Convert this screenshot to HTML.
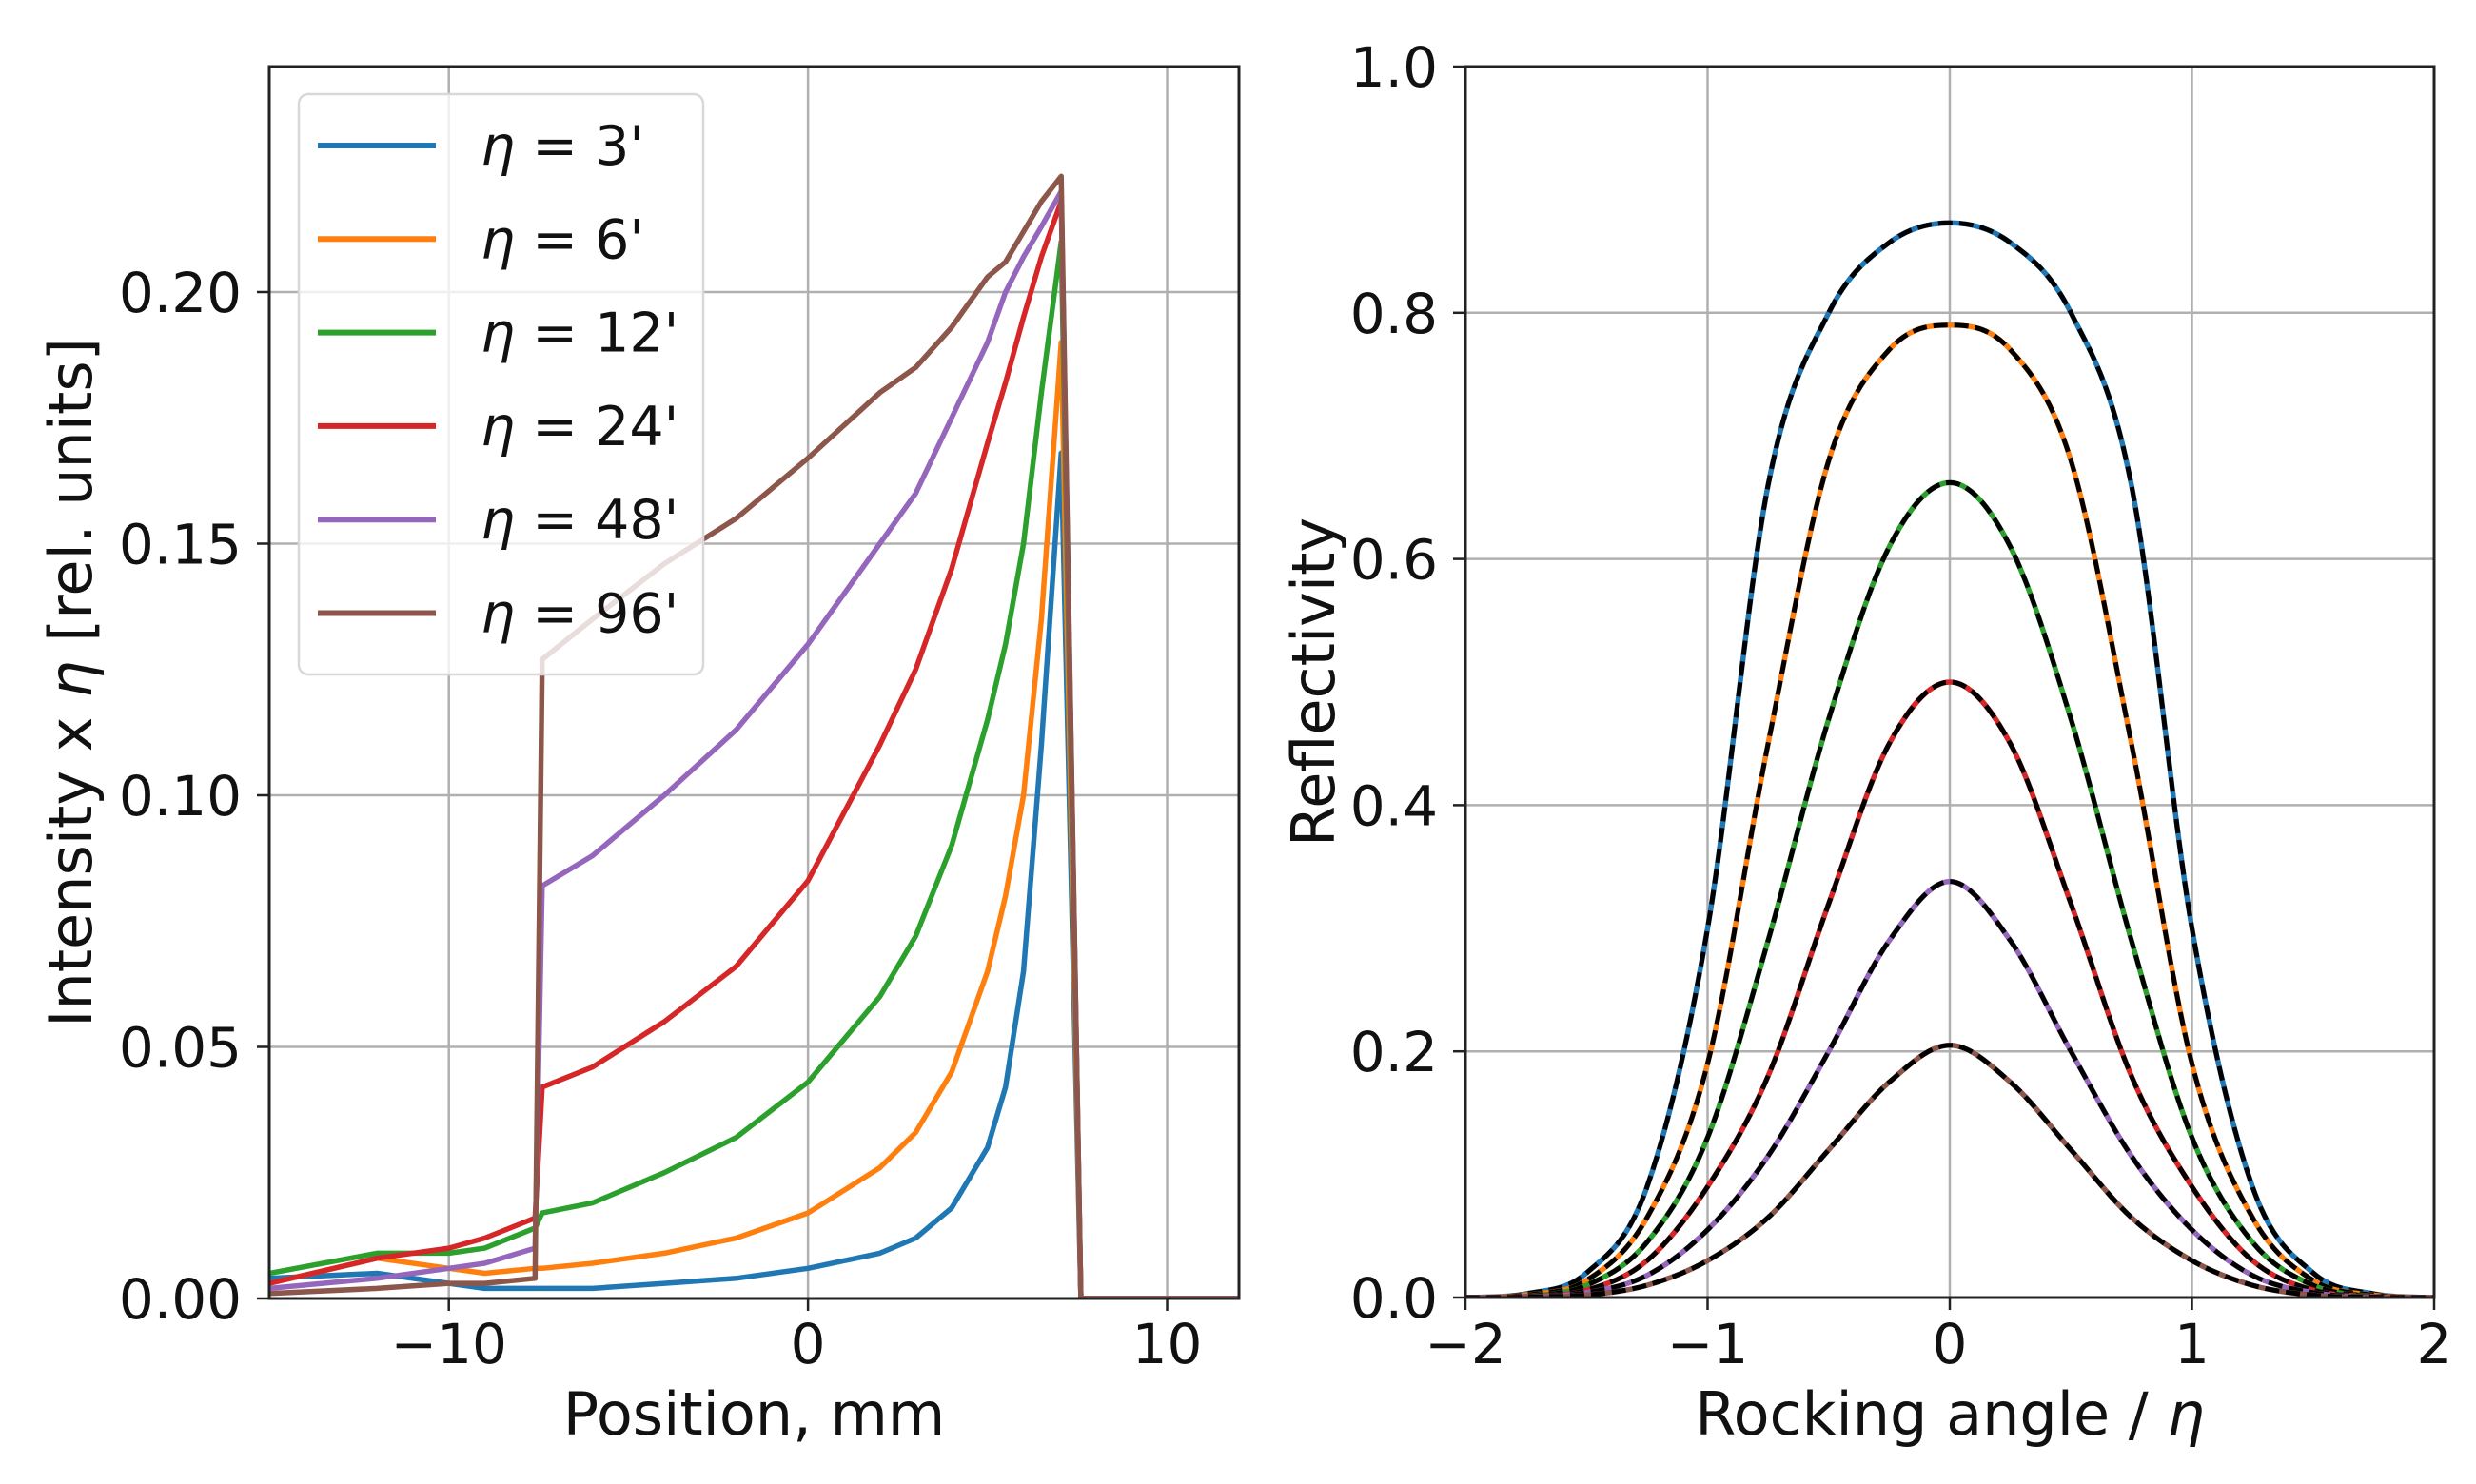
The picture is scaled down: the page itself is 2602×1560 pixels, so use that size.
<!DOCTYPE html>
<html><head><meta charset="utf-8"><style>
html,body{margin:0;padding:0;background:#fff;}
svg{display:block;font-family:"DejaVu Sans","Liberation Sans",sans-serif;}
</style></head><body>
<svg id="fig" width="2602" height="1560" viewBox="0 0 2602 1560" xmlns="http://www.w3.org/2000/svg">
<rect width="2602" height="1560" fill="#fff"/>
<g id="left"></g>
<g id="right"></g>
</svg>
<script>
const NS="http://www.w3.org/2000/svg";
const colors=["#1f77b4","#ff7f0e","#2ca02c","#d62728","#9467bd","#8c564b"];
const seriesLabels=["3'","6'","12'","24'","48'","96'"];
// left panel data
const posX=[-15,-12,-10,-9,-7.6,-7.4,-6,-4,-2,0,2,3,4,5,5.5,6,6.5,7.05,7.6,12];
const int3 =[0.004,0.005,0.003,0.002,0.002,0.002,0.002,0.003,0.004,0.006,0.009,0.012,0.018,0.03,0.042,0.065,0.11,0.168,0,0];
const int6 =[0.003,0.008,0.006,0.005,0.006,0.006,0.007,0.009,0.012,0.017,0.026,0.033,0.045,0.065,0.08,0.1,0.135,0.19,0,0];
const int12=[0.005,0.009,0.009,0.01,0.014,0.017,0.019,0.025,0.032,0.043,0.06,0.072,0.09,0.115,0.13,0.15,0.18,0.21,0,0];
const int24=[0.003,0.008,0.01,0.012,0.016,0.042,0.046,0.055,0.066,0.083,0.11,0.125,0.145,0.17,0.182,0.195,0.207,0.218,0,0];
const int48=[0.002,0.004,0.006,0.007,0.01,0.082,0.088,0.1,0.113,0.13,0.15,0.16,0.175,0.19,0.2,0.207,0.213,0.22,0,0];
const int96=[0.001,0.002,0.003,0.003,0.004,0.127,0.135,0.146,0.155,0.167,0.18,0.185,0.193,0.203,0.206,0.212,0.218,0.223,0,0];
const leftXTicks=[-10,0,10];
const leftXTickLabels=["\u221210","0","10"];
const leftYTicks=[0,0.05,0.1,0.15,0.2];
const leftYTickLabels=["0.00","0.05","0.10","0.15","0.20"];
// right panel data
const angX=[-2,-1.75,-1.5,-1.25,-1,-0.75,-0.5,-0.25,0,0.25,0.5,0.75,1,1.25,1.5,1.75,2];
const ref3 =[0,0.003,0.02,0.09,0.3,0.66,0.8,0.857,0.873,0.857,0.8,0.66,0.3,0.09,0.02,0.003,0];
const ref6 =[0,0.002,0.014,0.065,0.19,0.45,0.68,0.77,0.79,0.77,0.68,0.45,0.19,0.065,0.014,0.002,0];
const ref12=[0,0.001,0.01,0.045,0.13,0.29,0.47,0.61,0.662,0.61,0.47,0.29,0.13,0.045,0.01,0.001,0];
const ref24=[0,0.001,0.006,0.03,0.09,0.18,0.32,0.45,0.5,0.45,0.32,0.18,0.09,0.03,0.006,0.001,0];
const ref48=[0,0.0005,0.004,0.018,0.055,0.115,0.2,0.29,0.338,0.29,0.2,0.115,0.055,0.018,0.004,0.0005,0];
const ref96=[0,0.0003,0.002,0.01,0.03,0.065,0.12,0.175,0.205,0.175,0.12,0.065,0.03,0.01,0.002,0.0003,0];
const rightXTicks=[-2,-1,0,1,2];
const rightXTickLabels=["\u22122","\u22121","0","1","2"];
const rightYTicks=[0,0.2,0.4,0.6,0.8,1.0];
const rightYTickLabels=["0.0","0.2","0.4","0.6","0.8","1.0"];

function mk(tag,attrs,parent){const e=document.createElementNS(NS,tag);for(const k in attrs)e.setAttribute(k,attrs[k]);parent.appendChild(e);return e;}
function lin(d0,d1,r0,r1){return v=>r0+(v-d0)/(d1-d0)*(r1-r0);}
function smoothPath(pts){let d="M"+pts[0][0]+","+pts[0][1];for(let i=0;i<pts.length-1;i++){const p0=pts[Math.max(0,i-1)],p1=pts[i],p2=pts[i+1],p3=pts[Math.min(pts.length-1,i+2)];
const c1=[p1[0]+(p2[0]-p0[0])/6,p1[1]+(p2[1]-p0[1])/6],c2=[p2[0]-(p3[0]-p1[0])/6,p2[1]-(p3[1]-p1[1])/6];d+=" C"+c1+" "+c2+" "+p2;}return d;}

function axes(g,x0,x1,y0,y1,sx,sy,xt,xtl,yt,ytl,xlabel,ylabel,ylx){
  const clip=mk("clipPath",{id:g.id+"-clip"},g);mk("rect",{x:x0,y:y0,width:x1-x0,height:y1-y0},clip);
  xt.forEach((t,i)=>{const x=sx(t);
    const l=mk("line",{x1:x,x2:x,y1:y0,y2:y1,stroke:"#b0b0b0","stroke-width":2.5},g);
    
    mk("line",{x1:x,x2:x,y1:y1,y2:y1+13,stroke:"#222","stroke-width":2.5},g);
    const tx=mk("text",{x:x,y:1433,"text-anchor":"middle","font-size":58,fill:"#111"},g);tx.textContent=xtl[i];
    });
  yt.forEach((t,i)=>{const y=sy(t);
    const l=mk("line",{x1:x0,x2:x1,y1:y,y2:y,stroke:"#b0b0b0","stroke-width":2.5},g);
    
    mk("line",{x1:x0-13,x2:x0,y1:y,y2:y,stroke:"#222","stroke-width":2.5},g);
    const tx=mk("text",{x:x0-29,y:y+21,"text-anchor":"end","font-size":58,fill:"#111"},g);tx.textContent=ytl[i];
    });
  const xl=mk("text",{x:(x0+x1)/2,y:1508,"text-anchor":"middle","font-size":62,fill:"#111"},g);xl.innerHTML=xlabel;
  
  const yl=mk("text",{x:0,y:0,"text-anchor":"middle","font-size":62,fill:"#111",transform:`translate(${ylx},${(y0+y1)/2}) rotate(-90)`},g);yl.innerHTML=ylabel;
  
}
function frame(g,x0,x1,y0,y1){const r=mk("rect",{x:x0,y:y0,width:x1-x0,height:y1-y0,fill:"none",stroke:"#222","stroke-width":3},g);
  }

// LEFT
(function(){
  const g=document.getElementById("left");const x0=283,x1=1302,y0=70,y1=1365;
  const sx=lin(-15,12,x0,x1),sy=lin(0,0.2448,y1,y0);
  axes(g,x0,x1,y0,y1,sx,sy,leftXTicks,leftXTickLabels,leftYTicks,leftYTickLabels,"Position, mm",
    'Intensity x <tspan font-style="italic">η</tspan>  [rel. units]',96);
  const all=[int3,int6,int12,int24,int48,int96];
  const lg=mk("g",{"clip-path":"url(#left-clip)"},g);
  all.forEach((s,k)=>{const d=s.map((v,i)=>(i?"L":"M")+sx(posX[i]).toFixed(1)+","+sy(v).toFixed(1)).join(" ");
    const p=mk("path",{d:d,fill:"none",stroke:colors[k],"stroke-width":5.5,"stroke-linejoin":"round"},lg);
    });
  frame(g,x0,x1,y0,y1);
  const leg=mk("g",{},g);
  mk("rect",{x:314,y:99,width:425,height:610,rx:10,fill:"#fff","fill-opacity":0.8,stroke:"#d8d8d8","stroke-width":2.5},leg);
  seriesLabels.forEach((t,k)=>{const y=153+k*98.3;
    const e=mk("g",{},leg);
    mk("line",{x1:334,x2:458,y1:y,y2:y,stroke:colors[k],"stroke-width":6},e);
    const tx=mk("text",{x:505,y:y+20,"font-size":57,fill:"#111"},e);
    tx.innerHTML='<tspan font-style="italic">η</tspan> = '+t;});
})();
// RIGHT
(function(){
  const g=document.getElementById("right");const x0=1540,x1=2558,y0=70,y1=1364;
  const sx=lin(-2,2,x0,x1),sy=lin(0,1,y1,y0);
  axes(g,x0,x1,y0,y1,sx,sy,rightXTicks,rightXTickLabels,rightYTicks,rightYTickLabels,
    'Rocking angle / <tspan font-style="italic">η</tspan>','Reflectivity',1402);
  const all=[ref3,ref6,ref12,ref24,ref48,ref96];
  const lg=mk("g",{"clip-path":"url(#right-clip)"},g);
  all.forEach((s,k)=>{const pts=s.map((v,i)=>[+sx(angX[i]).toFixed(1),+sy(v).toFixed(1)]);const d=smoothPath(pts);
    const p=mk("path",{d:d,fill:"none",stroke:colors[k],"stroke-width":5.5},lg);
    
    const q=mk("path",{d:d,fill:"none",stroke:"#000","stroke-width":5,"stroke-dasharray":"15 7"},lg);
    });
  frame(g,x0,x1,y0,y1);
})();
</script>
</body></html>
